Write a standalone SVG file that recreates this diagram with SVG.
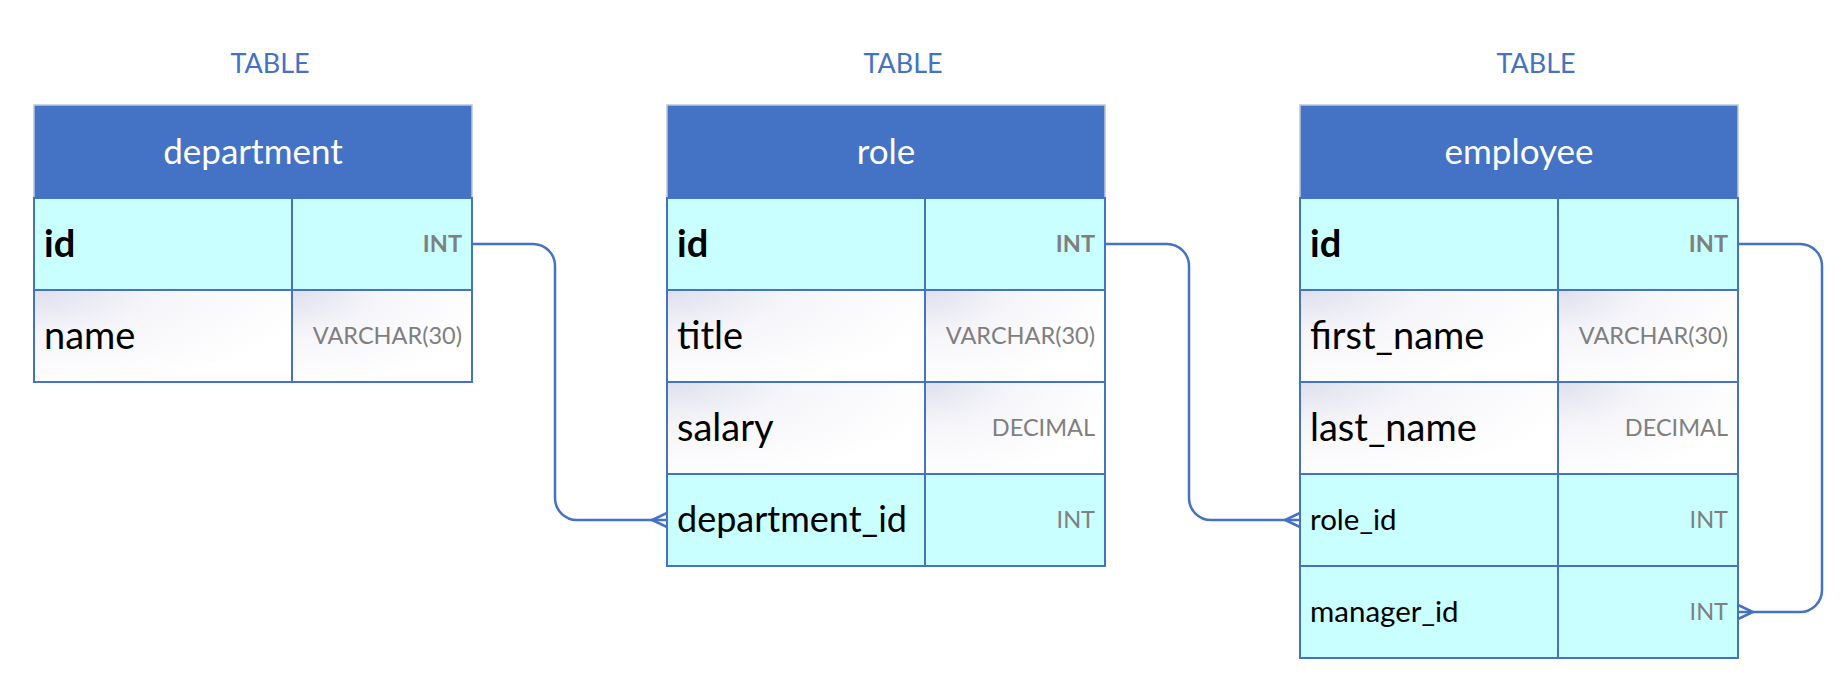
<svg xmlns="http://www.w3.org/2000/svg" width="1846" height="690" viewBox="0 0 1846 690">
<defs>
<radialGradient id="soft" cx="0" cy="0" r="1.1" fx="0" fy="0">
<stop offset="0" stop-color="#E0E0EE"/>
<stop offset="0.45" stop-color="#F6F6FA"/>
<stop offset="1" stop-color="#FFFFFF"/>
</radialGradient>
</defs>
<style>
.lbl{font-family:Lato,"Open Sans",sans-serif;font-size:27px;fill:#4472C4;text-anchor:middle}
.hdr{fill:#4472C4;stroke:#BCC6DC;stroke-width:1.5}
.ttl{font-family:Lato,"Open Sans",sans-serif;font-size:35px;fill:#FFFFFF;text-anchor:middle}
.key{fill:#C9FFFF;stroke:#4472C4;stroke-width:2}
.pln{fill:url(#soft);stroke:#4472C4;stroke-width:2}
.fn{font-family:Lato,"Open Sans",sans-serif;font-size:38px;fill:#000000}
.fm{font-family:Lato,"Open Sans",sans-serif;font-size:36px;fill:#000000}
.fs{font-family:Lato,"Open Sans",sans-serif;font-size:29.5px;fill:#000000}
.b{font-weight:bold}
.ty{font-family:Lato,"Open Sans",sans-serif;font-size:23.5px;fill:#7F7F7F;text-anchor:end}
.cn{fill:none;stroke:#4472C4;stroke-width:2.5}
</style>

<g id="department">
<text class="lbl" x="270" y="73">TABLE</text>
<rect class="hdr" x="34" y="105" width="438" height="93"/>
<text class="ttl" x="253" y="164">department</text>
<rect class="key" x="34" y="198" width="258" height="92"/>
<rect class="key" x="292" y="198" width="180" height="92"/>
<text class="fn b" x="44" y="257">id</text>
<text class="ty b" x="462" y="252">INT</text>
<rect class="pln" x="34" y="290" width="258" height="92"/>
<rect class="pln" x="292" y="290" width="180" height="92"/>
<text class="fn" x="44" y="349">name</text>
<text class="ty" x="462" y="344">VARCHAR(30)</text>
</g>

<g id="role">
<text class="lbl" x="903" y="73">TABLE</text>
<rect class="hdr" x="667" y="105" width="438" height="93"/>
<text class="ttl" x="886" y="164">role</text>
<rect class="key" x="667" y="198" width="258" height="92"/>
<rect class="key" x="925" y="198" width="180" height="92"/>
<text class="fn b" x="677" y="257">id</text>
<text class="ty b" x="1095" y="252">INT</text>
<rect class="pln" x="667" y="290" width="258" height="92"/>
<rect class="pln" x="925" y="290" width="180" height="92"/>
<text class="fn" x="677" y="349">title</text>
<text class="ty" x="1095" y="344">VARCHAR(30)</text>
<rect class="pln" x="667" y="382" width="258" height="92"/>
<rect class="pln" x="925" y="382" width="180" height="92"/>
<text class="fn" x="677" y="441">salary</text>
<text class="ty" x="1095" y="436">DECIMAL</text>
<rect class="key" x="667" y="474" width="258" height="92"/>
<rect class="key" x="925" y="474" width="180" height="92"/>
<text class="fm" x="677" y="532">department_id</text>
<text class="ty" x="1095" y="528">INT</text>
</g>

<g id="employee">
<text class="lbl" x="1536" y="73">TABLE</text>
<rect class="hdr" x="1300" y="105" width="438" height="93"/>
<text class="ttl" x="1519" y="164">employee</text>
<rect class="key" x="1300" y="198" width="258" height="92"/>
<rect class="key" x="1558" y="198" width="180" height="92"/>
<text class="fn b" x="1310" y="257">id</text>
<text class="ty b" x="1728" y="252">INT</text>
<rect class="pln" x="1300" y="290" width="258" height="92"/>
<rect class="pln" x="1558" y="290" width="180" height="92"/>
<text class="fn" x="1310" y="349">first_name</text>
<text class="ty" x="1728" y="344">VARCHAR(30)</text>
<rect class="pln" x="1300" y="382" width="258" height="92"/>
<rect class="pln" x="1558" y="382" width="180" height="92"/>
<text class="fn" x="1310" y="441">last_name</text>
<text class="ty" x="1728" y="436">DECIMAL</text>
<rect class="key" x="1300" y="474" width="258" height="92"/>
<rect class="key" x="1558" y="474" width="180" height="92"/>
<text class="fs" x="1310" y="530">role_id</text>
<text class="ty" x="1728" y="528">INT</text>
<rect class="key" x="1300" y="566" width="258" height="92"/>
<rect class="key" x="1558" y="566" width="180" height="92"/>
<text class="fs" x="1310" y="622">manager_id</text>
<text class="ty" x="1728" y="620">INT</text>
</g>

<g id="connectors">
<path class="cn" d="M472,244 H533 A22,22 0 0 1 555,266 V498 A22,22 0 0 0 577,520 H667"/>
<path class="cn" d="M667,513 L652,520 L667,527"/>
<path class="cn" d="M1105,244 H1167 A22,22 0 0 1 1189,266 V498 A22,22 0 0 0 1211,520 H1300"/>
<path class="cn" d="M1300,513 L1285,520 L1300,527"/>
<path class="cn" d="M1738,244 H1800 A22,22 0 0 1 1822,266 V590 A22,22 0 0 1 1800,612 H1738"/>
<path class="cn" d="M1738,605 L1753,612 L1738,619"/>
</g>
</svg>
